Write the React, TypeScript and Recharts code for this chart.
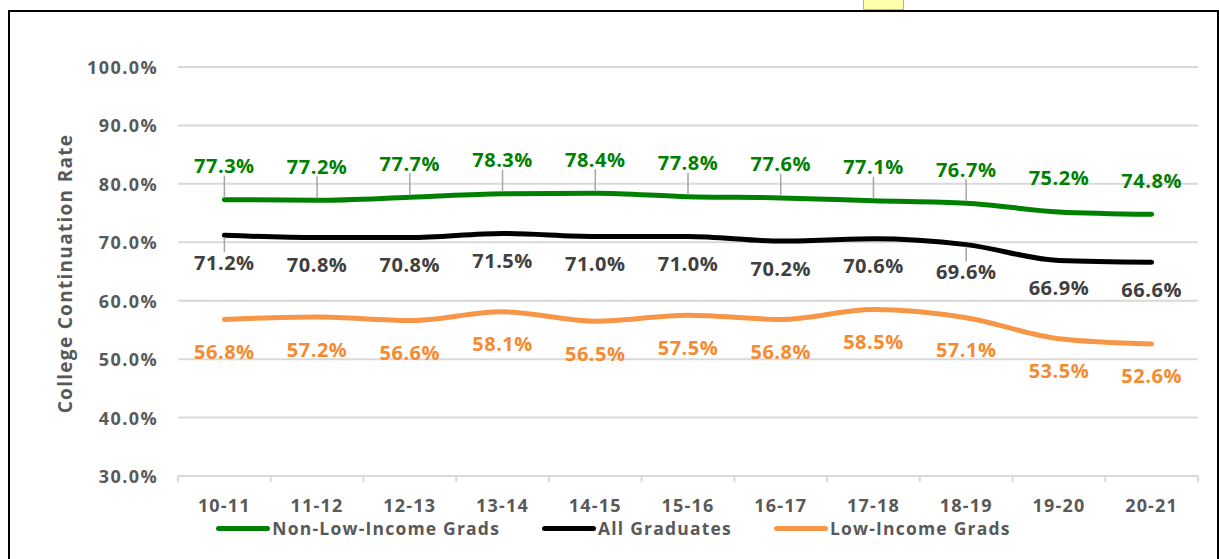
import React from 'react';
import { LineChart, Line, XAxis, YAxis, CartesianGrid, LabelList } from 'recharts';

const categories = ['10-11', '11-12', '12-13', '13-14', '14-15', '15-16', '16-17', '17-18', '18-19', '19-20', '20-21'];
const nonLowIncome = [77.3, 77.2, 77.7, 78.3, 78.4, 77.8, 77.6, 77.1, 76.7, 75.2, 74.8];
const allGraduates = [71.2, 70.8, 70.8, 71.5, 71.0, 71.0, 70.2, 70.6, 69.6, 66.9, 66.6];
const lowIncome = [56.8, 57.2, 56.6, 58.1, 56.5, 57.5, 56.8, 58.5, 57.1, 53.5, 52.6];
const yTicks = [30, 40, 50, 60, 70, 80, 90, 100];

const seriesNames = ['Non-Low-Income Grads', 'All Graduates', 'Low-Income Grads'];

const data = categories.map((c, i) => ({
  cat: c,
  nonLow: nonLowIncome[i],
  all: allGraduates[i],
  low: lowIncome[i],
}));

const GREEN = '#008000';
const BLACK = '#000000';
const ORANGE = '#F79646';
const GRAY_TEXT = '#595959';
const GRID = '#d9d9d9';
const FONT = '"Open Sans", "Noto Sans", sans-serif';

const CHART_W = 1207;
const CHART_H = 533;
const Y_AXIS_W = 168;
const MARGIN = { top: 55, right: 19, left: 0, bottom: 0 };
const PLOT_W = CHART_W - Y_AXIS_W - MARGIN.right;
const BAND = PLOT_W / categories.length;

const greenLeaders = [0, 1, 2, 3, 4, 5, 6, 7, 8];
const blackLeaders = [0, 8];

const makeLabel = (color: string, dy: number, leaders: number[], above: boolean) => (props: any) => {
  const { x, y, value, index } = props;
  if (x == null || y == null) return null;
  const showLeader = leaders.includes(index);
  return (
    <g>
      {showLeader && (
        <line
          x1={x}
          x2={x}
          y1={above ? y + dy + 10 : y + 2}
          y2={above ? y - 2 : y + dy - 10}
          stroke="#a6a6a6"
          strokeWidth={1.5}
        />
      )}
      <text
        x={x}
        y={y + dy}
        textAnchor="middle"
        dominantBaseline="central"
        fill={color}
        fontFamily={FONT}
        fontWeight={700}
        fontSize={20}
        style={{ letterSpacing: '0.5px' }}
      >
        {Number(value).toFixed(1)}%
      </text>
    </g>
  );
};

const XTick = (props: any) => {
  const { x, y, payload, index } = props;
  return (
    <g>
      <line x1={x - BAND / 2} x2={x - BAND / 2} y1={y} y2={y + 6} stroke={GRID} strokeWidth={2} />
      {index === categories.length - 1 && (
        <line x1={x + BAND / 2} x2={x + BAND / 2} y1={y} y2={y + 6} stroke={GRID} strokeWidth={2} />
      )}
      <text
        x={x}
        y={y + 29}
        textAnchor="middle"
        dominantBaseline="central"
        fill={GRAY_TEXT}
        fontFamily={FONT}
        fontWeight={700}
        fontSize={18}
        style={{ letterSpacing: '1.2px' }}
      >
        {payload.value}
      </text>
    </g>
  );
};

const YTick = (props: any) => {
  const { x, y, payload } = props;
  return (
    <text
      x={x + 1}
      y={y}
      textAnchor="end"
      dominantBaseline="central"
      fill={GRAY_TEXT}
      fontFamily={FONT}
      fontWeight={700}
      fontSize={18}
      style={{ letterSpacing: '1.4px' }}
    >
      {Number(payload.value).toFixed(1)}%
    </text>
  );
};

const YTitle = (props: any) => {
  const vb = props.viewBox || { x: 0, y: MARGIN.top, width: Y_AXIS_W, height: 409 };
  const cx = 55;
  const cy = vb.y + vb.height / 2 + 2;
  return (
    <text
      x={cx}
      y={cy}
      transform={`rotate(-90, ${cx}, ${cy})`}
      textAnchor="middle"
      dominantBaseline="central"
      fill={GRAY_TEXT}
      fontFamily={FONT}
      fontWeight={700}
      fontSize={19}
      style={{ letterSpacing: '1.3px' }}
    >
      College Continuation Rate
    </text>
  );
};

const legendColors = [GREEN, BLACK, ORANGE];

export default function App() {
  return (
    <div>
      <div
        style={{
          position: 'absolute',
          left: 863,
          top: 0,
          width: 41,
          height: 10,
          boxSizing: 'border-box',
          background: '#FFFFAA',
          border: '1px solid #b5b59a',
          borderTop: 'none',
        }}
      />
      <div
        style={{
          position: 'absolute',
          left: 8,
          top: 10,
          width: 1211,
          height: 549,
          boxSizing: 'border-box',
          borderTop: '2px solid #000',
          borderLeft: '2px solid #000',
          borderRight: '2px solid #000',
          background: '#fff',
        }}
      >
        <div style={{ position: 'absolute', left: 0, top: 0 }}>
          <LineChart width={CHART_W} height={CHART_H} data={data} margin={MARGIN}>
            <CartesianGrid horizontal vertical={false} stroke={GRID} strokeWidth={2} />
            <XAxis
              dataKey="cat"
              height={69}
              axisLine={false}
              tickLine={false}
              tickSize={0}
              tickMargin={0}
              interval={0}
              padding={{ left: BAND / 2, right: BAND / 2 }}
              tick={<XTick />}
            />
            <YAxis
              width={Y_AXIS_W}
              domain={[30, 100]}
              ticks={yTicks}
              axisLine={false}
              tickLine={false}
              tickSize={0}
              tickMargin={21}
              interval={0}
              tick={<YTick />}
              label={{ content: <YTitle /> }}
            />
            <Line
              type="monotone"
              dataKey="nonLow"
              name={seriesNames[0]}
              stroke={GREEN}
              strokeWidth={5}
              strokeLinecap="round"
              dot={false}
              isAnimationActive={false}
            >
              <LabelList dataKey="nonLow" content={makeLabel(GREEN, -34, greenLeaders, true)} />
            </Line>
            <Line
              type="monotone"
              dataKey="all"
              name={seriesNames[1]}
              stroke={BLACK}
              strokeWidth={5}
              strokeLinecap="round"
              dot={false}
              isAnimationActive={false}
            >
              <LabelList dataKey="all" content={makeLabel('#404040', 27, blackLeaders, false)} />
            </Line>
            <Line
              type="monotone"
              dataKey="low"
              name={seriesNames[2]}
              stroke={ORANGE}
              strokeWidth={5}
              strokeLinecap="round"
              dot={false}
              isAnimationActive={false}
            >
              <LabelList dataKey="low" content={makeLabel('#F58A30', 32, [], false)} />
            </Line>
          </LineChart>
        </div>
        <div
          style={{
            position: 'absolute',
            left: 0,
            top: 505,
            width: CHART_W,
            height: 22,
            display: 'flex',
            alignItems: 'center',
            justifyContent: 'center',
            gap: 42,
            fontFamily: FONT,
            fontWeight: 700,
            fontSize: 17.5,
            color: GRAY_TEXT,
            letterSpacing: '1.2px',
          }}
        >
          {seriesNames.map((n, i) => (
            <div key={n} style={{ display: 'flex', alignItems: 'center' }}>
              <div
                style={{
                  width: 54,
                  height: 5,
                  borderRadius: 3,
                  background: legendColors[i],
                  marginRight: 2,
                }}
              />
              <span style={{ whiteSpace: 'nowrap', lineHeight: '22px' }}>{n}</span>
            </div>
          ))}
        </div>
      </div>
    </div>
  );
}
